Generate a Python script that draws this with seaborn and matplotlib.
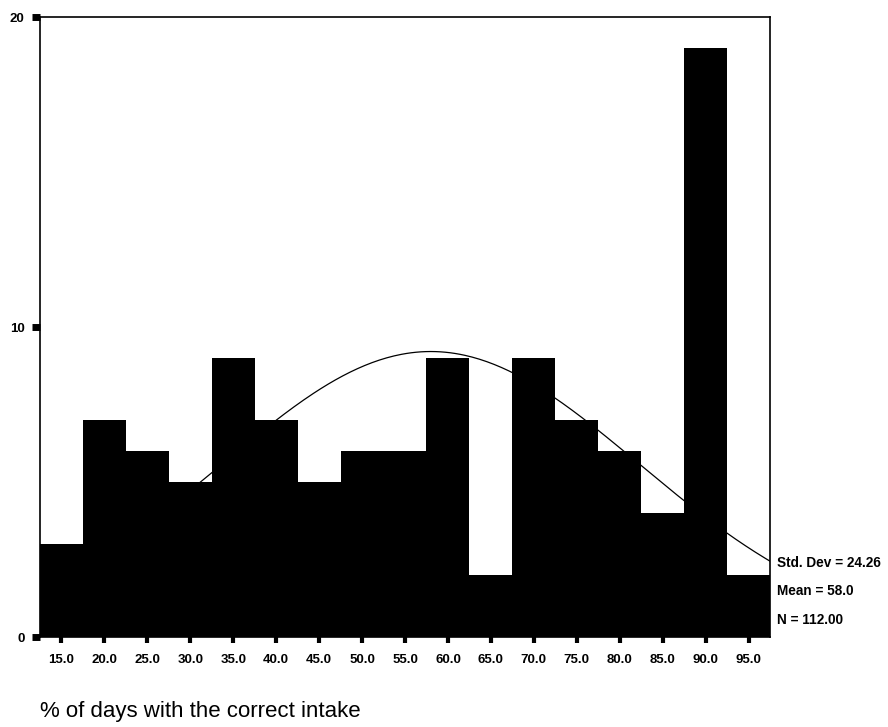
import numpy as np
import pandas as pd
import matplotlib
matplotlib.use("Agg")
import matplotlib.pyplot as plt
import seaborn as sns

# bin centres (% of days) and counts
bin_centers = [15, 20, 25, 30, 35, 40, 45, 50, 55, 60, 65, 70, 75, 80, 85, 90, 95]
counts = [3, 7, 6, 5, 9, 7, 5, 6, 6, 9, 2, 9, 7, 6, 4, 19, 2]
tick_labels = ["15.0", "20.0", "25.0", "30.0", "35.0", "40.0", "45.0", "50.0", "55.0",
               "60.0", "65.0", "70.0", "75.0", "80.0", "85.0", "90.0", "95.0"]

std_dev = 24.26
mean = 58.0
n_total = 112
bin_width = 5

sns.set_style("white")
plt.rcParams["font.family"] = ["Liberation Sans", "DejaVu Sans"]
plt.rcParams["text.color"] = "black"
plt.rcParams["xtick.color"] = "black"
plt.rcParams["ytick.color"] = "black"

fig = plt.figure(figsize=(8.88, 7.27), dpi=100)
ax = fig.add_axes([40 / 888, 90 / 727, 730 / 888, 620 / 727])

df = pd.DataFrame({"pct": bin_centers, "n": counts})
sns.histplot(data=df, x="pct", weights="n", binwidth=bin_width, binrange=(12.5, 97.5),
             color="black", edgecolor="black", linewidth=0, alpha=1, ax=ax)

# fitted normal curve from the reported mean / std dev
xs = np.linspace(12.5, 97.5, 300)
ys = n_total * bin_width / (std_dev * np.sqrt(2 * np.pi)) * np.exp(-(xs - mean) ** 2 / (2 * std_dev ** 2))
sns.lineplot(x=xs, y=ys, color="black", linewidth=0.9, ax=ax)

ax.set_xlim(12.5, 97.5)
ax.set_ylim(0, 20)
ax.set_xticks(bin_centers)
ax.set_xticklabels(tick_labels, fontsize=9.5, fontweight="bold")
ax.set_yticks([0, 10, 20])
ax.set_yticklabels(["0", "10", "20"], fontsize=9.5, fontweight="bold")
ax.tick_params(axis="x", direction="out", length=4, width=3, pad=8, bottom=True)
ax.tick_params(axis="y", direction="out", length=6, width=5, pad=5, left=True)
ax.set_xlabel("")
ax.set_ylabel("")
for s in ax.spines.values():
    s.set_color("black")
    s.set_linewidth(1.2)

fig.text(777 / 888, 1 - 563 / 727, "Std. Dev = %.2f" % std_dev, fontsize=9.8, fontweight="bold", va="center")
fig.text(777 / 888, 1 - 591 / 727, "Mean = %.1f" % mean, fontsize=9.8, fontweight="bold", va="center")
fig.text(777 / 888, 1 - 620 / 727, "N = %.2f" % n_total, fontsize=9.8, fontweight="bold", va="center")

fig.text(40 / 888, 1 - 711 / 727, "% of days with the correct intake", fontsize=16, va="center")

fig.savefig("out.png", dpi=100)
